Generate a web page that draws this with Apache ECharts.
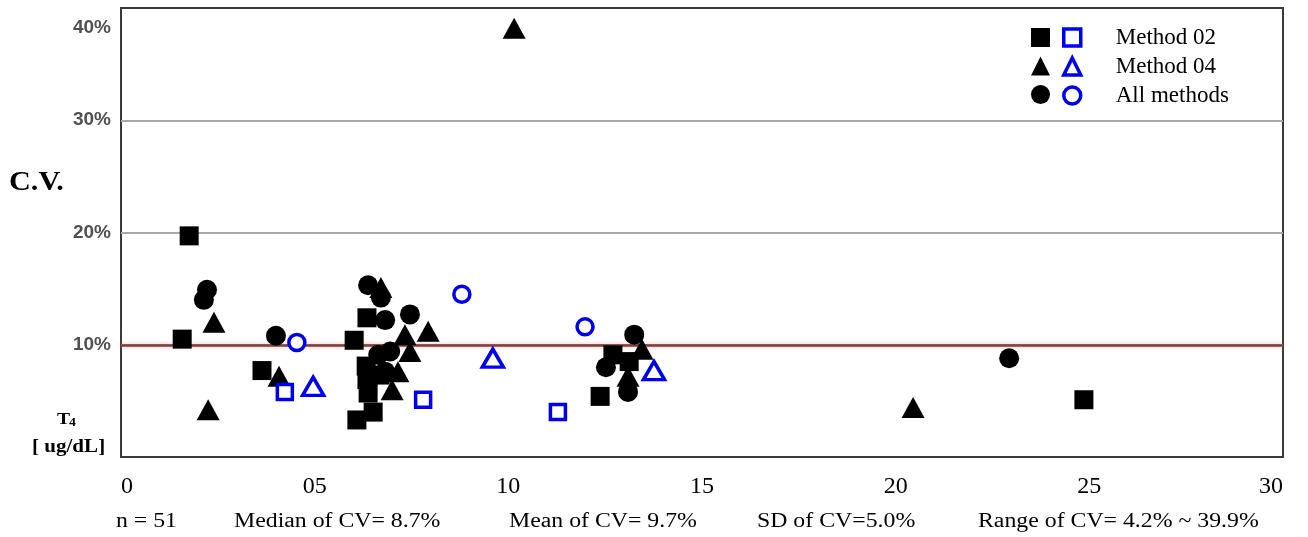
<!DOCTYPE html>
<html><head><meta charset="utf-8">
<script src="https://cdn.jsdelivr.net/npm/echarts@6/dist/echarts.min.js"></script>
<style>html,body{margin:0;padding:0;background:#fff}#c{width:1308px;height:537px}</style>
</head><body><div id="c"></div>
<script>
// Data: [T4 concentration (ug/dL), C.V. (%)]
const method02 = [[1.76,19.7],[1.58,10.5],[3.64,7.7],[6.35,12.4],[6.02,10.4],[6.09,3.3],[6.51,4.0],[6.33,8.1],[6.35,6.9],[6.38,5.7],[6.69,7.3],[12.70,9.1],[13.12,8.5],[12.37,5.4],[24.86,5.1]];
const method04 = [[10.15,38.2],[2.40,12.0],[2.25,4.2],[4.08,7.2],[6.71,15.1],[7.33,10.9],[7.93,11.2],[7.46,9.4],[7.15,7.6],[7.00,6.0],[13.09,7.2],[13.45,9.6],[20.45,4.4]];
const allMethods = [[2.22,14.9],[2.14,14.0],[4.00,10.8],[6.38,15.3],[6.71,14.2],[6.82,12.2],[7.46,12.7],[6.64,9.1],[6.95,9.4],[6.82,7.6],[13.25,10.9],[12.52,8.0],[13.09,5.8],[22.93,8.8]];
const refMethod02 = [[4.23,5.8],[7.80,5.1],[11.28,4.0]];
const refMethod04 = [[4.96,6.3],[9.60,8.8],[13.76,7.7]];
const refAll = [[4.54,10.2],[8.80,14.5],[11.98,11.6]];
const xTicks = ['0','05','10','15','20','25','30'];
const limitCV = 10;
const stats = ['n = 51','Median of CV= 8.7%','Mean of CV= 9.7%','SD of CV=5.0%','Range of CV= 4.2% ~ 39.9%'];

const chart = echarts.init(document.getElementById('c'));
const BLUE = '#0000f0';
const serif = '"Liberation Serif","Times New Roman",serif';
const sans = '"Liberation Sans Narrow","Liberation Sans",Arial,sans-serif';
const hollow = {color:'#ffffff', borderColor:BLUE, borderWidth:3.5, opacity:1};
const solid = {color:'#000', opacity:1};
const statX = [116,234,509,757,978];
const SX = 1.19;

chart.setOption({
  animation:false,
  grid:{left:121,right:25,top:8,bottom:80,show:true,borderColor:'#3a3a3a',borderWidth:2,backgroundColor:'#fff'},
  xAxis:{type:'value',min:0,max:30,interval:5,
    axisLine:{show:false},axisTick:{show:false},splitLine:{show:false},
    axisLabel:{margin:18,fontFamily:serif,fontSize:24,color:'#000',
      formatter:v=>xTicks[Math.round(v/5)],alignMinLabel:'left',alignMaxLabel:'right'}},
  yAxis:{type:'value',min:0,max:40,interval:10,
    axisLine:{show:false},axisTick:{show:false},
    splitLine:{showMinLine:false,showMaxLine:false,lineStyle:{color:'#a8a8a8',width:2}},
    axisLabel:{margin:10,fontFamily:sans,fontSize:19,fontWeight:'bold',color:'#505050',
      formatter:v=>v===0?'':(v===40?'{t|40%}':v+'%'),
      rich:{t:{padding:[40,0,0,0],fontFamily:sans,fontSize:19,fontWeight:'bold',color:'#505050'}}}},
  legend:[
    {orient:'vertical',left:1026,top:23,itemWidth:19,itemHeight:19,itemGap:9.5,
     data:[{name:'Method 02',icon:'rect'},{name:'Method 04',icon:'triangle'},{name:'All methods',icon:'circle'}],
     formatter:()=>'',selectedMode:false,textStyle:{fontSize:1}},
    {orient:'vertical',left:1057,top:21,itemWidth:17,itemHeight:17,itemGap:6,
     data:[{name:'Method 02 ',icon:'rect',itemStyle:hollow},{name:'Method 04 ',icon:'triangle',itemStyle:hollow},{name:'All methods ',icon:'circle',itemStyle:hollow}],
     formatter:n=>n.trim(),selectedMode:false,
     textStyle:{fontFamily:serif,fontSize:23,color:'#000',padding:[0,0,0,30]}}
  ],
  graphic:[
    {type:'text',x:9,y:169,scaleX:1.08,style:{text:'C.V.',font:'bold 28px '+serif,fill:'#000',verticalAlign:'top'}},
    {type:'text',x:57,y:411,scaleX:1.15,style:{text:'T',font:'bold 17px '+serif,fill:'#000',verticalAlign:'top'}},
    {type:'text',x:69,y:417,scaleX:1.15,style:{text:'4',font:'bold 12px '+serif,fill:'#000',verticalAlign:'top'}},
    {type:'text',x:32,y:438,scaleX:1.17,style:{text:'[ ug/dL]',font:'bold 18px '+serif,fill:'#000',verticalAlign:'top'}},
    ...stats.map((s,i)=>({type:'text',x:statX[i],y:512,scaleX:SX,style:{text:s,font:'20px '+serif,fill:'#000',verticalAlign:'top'}}))
  ],
  series:[
    {name:'Method 02',type:'scatter',symbol:'rect',symbolSize:19,itemStyle:solid,data:method02,z:3,
     markLine:{silent:true,symbol:'none',label:{show:false},
       lineStyle:{color:'#7c4040',width:2.5,type:'solid',opacity:1,shadowColor:'rgba(230,120,120,0.6)',shadowBlur:4},
       data:[{yAxis:limitCV}],z:1}},
    {name:'Method 04',type:'scatter',symbol:'triangle',symbolSize:[23,21],itemStyle:solid,data:method04,z:3},
    {name:'All methods',type:'scatter',symbol:'circle',symbolSize:20,itemStyle:solid,data:allMethods,z:3},
    {name:'Method 02 ',type:'scatter',symbol:'rect',symbolSize:15,itemStyle:hollow,data:refMethod02,z:4},
    {name:'Method 04 ',type:'scatter',symbol:'triangle',symbolSize:[21,18],itemStyle:hollow,data:refMethod04,z:4},
    {name:'All methods ',type:'scatter',symbol:'circle',symbolSize:16,itemStyle:hollow,data:refAll,z:4}
  ]
});
</script></body></html>
